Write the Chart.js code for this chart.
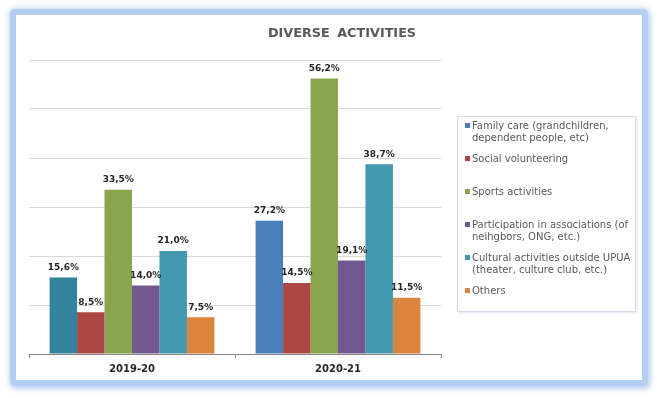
<!DOCTYPE html>
<html>
<head>
<meta charset="utf-8">
<script src="https://cdn.jsdelivr.net/npm/chart.js@4/dist/chart.umd.min.js"></script>
<style>
  html,body{margin:0;padding:0;background:#fff;width:657px;height:398px;overflow:hidden;}
  #frame{position:absolute;left:10px;top:9px;width:626px;height:365px;border:6px solid #b2cff3;border-radius:5px;
    box-shadow:0 0 5px 2px rgba(180,208,243,0.6), 2px 3px 5px rgba(160,192,236,0.55);background:#fff;}
  #wrap{position:absolute;left:0;top:0;width:657px;height:398px;}
  #title{position:absolute;left:242px;top:25px;width:200px;text-align:center;font-family:"DejaVu Sans",sans-serif;
    font-weight:bold;font-size:12.8px;color:#595959;letter-spacing:0px;word-spacing:3px;}
  #legend{position:absolute;left:457px;top:116px;width:179px;height:196px;border:1px solid #d3dce8;box-sizing:border-box;
    box-shadow:1px 1px 2px rgba(200,210,225,0.6);font-family:"DejaVu Sans",sans-serif;font-size:10px;color:#595959;}
  .li{position:absolute;left:5px;right:0px;line-height:11.5px;padding-left:9px;white-space:nowrap;}
  .li span.m{position:absolute;left:2px;top:3px;width:5px;height:5px;}
</style>
</head>
<body>
<div id="frame"></div>
<div id="wrap"><canvas id="c" width="657" height="398"></canvas></div>
<div id="title">DIVERSE ACTIVITIES</div>
<div id="legend"></div>
<script>
const categories = ['2019-20', '2020-21'];
const seriesNames = [
  ['Family care (grandchildren,', 'dependent people, etc)'],
  ['Social volunteering'],
  ['Sports activities'],
  ['Participation in associations (of', 'neihgbors, ONG, etc.)'],
  ['Cultural activities outside UPUA', '(theater, culture club, etc.)'],
  ['Others']
];
const familyCare = [15.6, 27.2];
const socialVolunteering = [8.5, 14.5];
const sportsActivities = [33.5, 56.2];
const participation = [14.0, 19.1];
const culturalActivities = [21.0, 38.7];
const others = [7.5, 11.5];
const seriesValues = [familyCare, socialVolunteering, sportsActivities, participation, culturalActivities, others];
const seriesColors = [
  ['#31849b', '#4a7ebb'],
  ['#aa4643', '#aa4643'],
  ['#89a54e', '#89a54e'],
  ['#71588f', '#71588f'],
  ['#4198af', '#4198af'],
  ['#db843d', '#db843d']
];
const legendColors = ['#4a7ebb', '#aa4643', '#89a54e', '#71588f', '#4198af', '#db843d'];
const legendTops = [3, 36, 69, 102, 135, 168];

const labelPlugin = {
  id: 'barLabels',
  afterDatasetsDraw(chart) {
    const ctx = chart.ctx;
    ctx.save();
    ctx.font = 'bold 9px "DejaVu Sans", sans-serif';
    ctx.fillStyle = '#262626';
    ctx.textAlign = 'center';
    ctx.textBaseline = 'middle';
    chart.data.datasets.forEach((ds, i) => {
      const meta = chart.getDatasetMeta(i);
      meta.data.forEach((bar, j) => {
        const v = ds.data[j];
        ctx.fillText(v.toFixed(1).replace('.', ',') + '%', bar.x, bar.y - 10);
      });
    });
    ctx.restore();
  }
};

new Chart(document.getElementById('c'), {
  type: 'bar',
  data: {
    labels: categories,
    datasets: seriesValues.map((vals, i) => ({
      label: seriesNames[i].join(' '),
      data: vals,
      backgroundColor: seriesColors[i],
      borderWidth: 0,
      barPercentage: 1.0,
      categoryPercentage: 0.8
    }))
  },
  options: {
    responsive: false,
    animation: false,
    layout: { padding: { left: 29, right: 216, top: 60, bottom: 0 } },
    plugins: { legend: { display: false }, title: { display: false }, tooltip: { enabled: false } },
    scales: {
      x: {
        grid: { display: true, drawOnChartArea: false, drawTicks: true, tickLength: 4, color: '#868686', offset: true },
        border: { display: true, color: '#868686', width: 1 },
        ticks: { color: '#262626', font: { family: '"DejaVu Sans", sans-serif', size: 10, weight: 'bold' }, padding: 5 },
        afterFit(s) { s.height = 44; }
      },
      y: {
        min: 0, max: 60,
        ticks: { display: false, stepSize: 10 },
        grid: { color: '#d9d9d9', drawTicks: false },
        border: { display: false },
        afterFit(s) { s.width = 0; }
      }
    }
  },
  plugins: [labelPlugin]
});

const lg = document.getElementById('legend');
seriesNames.forEach((lines, i) => {
  const d = document.createElement('div');
  d.className = 'li';
  d.style.top = legendTops[i] + 'px';
  const m = document.createElement('span');
  m.className = 'm';
  m.style.background = legendColors[i];
  d.appendChild(m);
  lines.forEach((t, k) => {
    if (k) d.appendChild(document.createElement('br'));
    d.appendChild(document.createTextNode(t));
  });
  lg.appendChild(d);
});
</script>
</body>
</html>
